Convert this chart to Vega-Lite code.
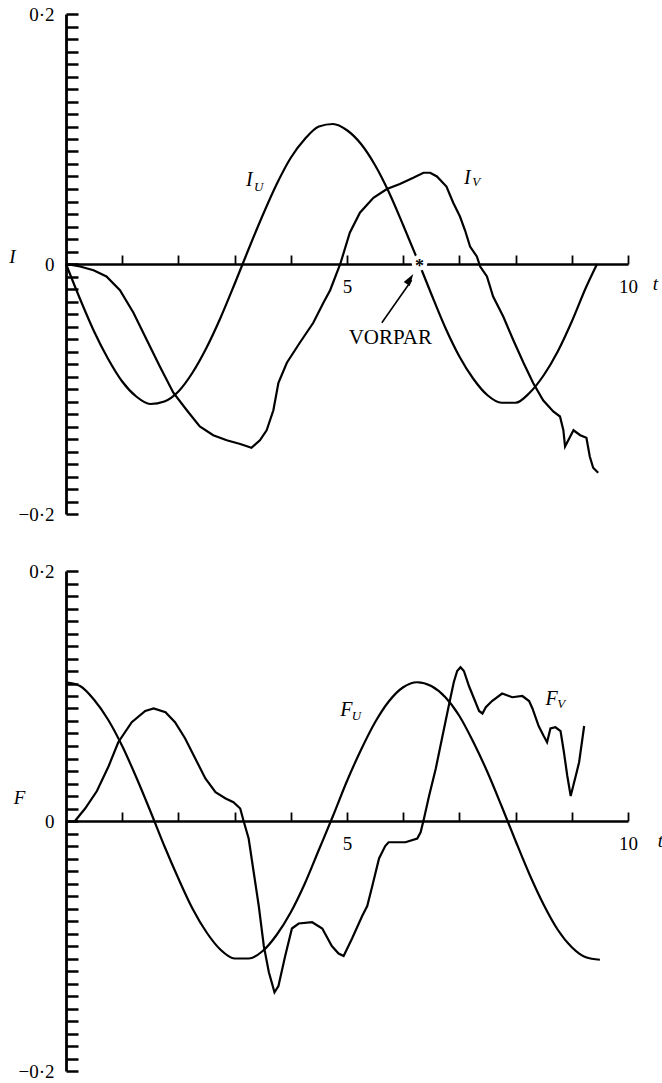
{
  "$schema": "https://vega.github.io/schema/vega-lite/v6.json",
  "background": "white",
  "padding": {"left": 8, "top": 5, "right": 0, "bottom": 0},
  "spacing": 38,
  "config": {"view": {"stroke": null}, "font": "Liberation Serif", "axis": {"grid": false}},
  "datasets": {
    "IU": [
      {"t": 0, "v": 0}, {"t": 0.25, "v": -0.028}, {"t": 0.5, "v": -0.054}, {"t": 0.75, "v": -0.076}, {"t": 1, "v": -0.094},
      {"t": 1.25, "v": -0.106}, {"t": 1.5, "v": -0.112}, {"t": 1.75, "v": -0.11}, {"t": 2, "v": -0.102}, {"t": 2.25, "v": -0.087},
      {"t": 2.5, "v": -0.067}, {"t": 2.75, "v": -0.043}, {"t": 3, "v": -0.016}, {"t": 3.25, "v": 0.012}, {"t": 3.5, "v": 0.039},
      {"t": 3.75, "v": 0.064}, {"t": 4, "v": 0.085}, {"t": 4.25, "v": 0.1}, {"t": 4.5, "v": 0.11}, {"t": 4.75, "v": 0.112},
      {"t": 5, "v": 0.107}, {"t": 5.25, "v": 0.096}, {"t": 5.5, "v": 0.079}, {"t": 5.75, "v": 0.057}, {"t": 6, "v": 0.031},
      {"t": 6.25, "v": 0.004}, {"t": 6.5, "v": -0.024}, {"t": 6.75, "v": -0.051}, {"t": 7, "v": -0.074}, {"t": 7.25, "v": -0.092},
      {"t": 7.5, "v": -0.105}, {"t": 7.75, "v": -0.111}, {"t": 8, "v": -0.111}, {"t": 8.25, "v": -0.103}, {"t": 8.5, "v": -0.089},
      {"t": 8.75, "v": -0.07}, {"t": 9, "v": -0.046}, {"t": 9.25, "v": -0.019}, {"t": 9.45, "v": 0}
    ],
    "IV": [
      {"t": 0, "v": 0}, {"t": 0.25, "v": -0.002}, {"t": 0.49, "v": -0.005}, {"t": 0.72, "v": -0.01}, {"t": 0.96, "v": -0.021},
      {"t": 1.2, "v": -0.039}, {"t": 1.44, "v": -0.061}, {"t": 1.67, "v": -0.082}, {"t": 1.91, "v": -0.103}, {"t": 2.15, "v": -0.117},
      {"t": 2.38, "v": -0.13}, {"t": 2.62, "v": -0.137}, {"t": 2.86, "v": -0.141}, {"t": 3.1, "v": -0.144}, {"t": 3.3, "v": -0.147},
      {"t": 3.45, "v": -0.141}, {"t": 3.57, "v": -0.133}, {"t": 3.69, "v": -0.117}, {"t": 3.78, "v": -0.095}, {"t": 3.93, "v": -0.079},
      {"t": 4.16, "v": -0.063}, {"t": 4.4, "v": -0.047}, {"t": 4.58, "v": -0.031}, {"t": 4.7, "v": -0.021}, {"t": 4.88, "v": 0},
      {"t": 5.05, "v": 0.025}, {"t": 5.23, "v": 0.041}, {"t": 5.47, "v": 0.053}, {"t": 5.71, "v": 0.06}, {"t": 5.94, "v": 0.064},
      {"t": 6.18, "v": 0.069}, {"t": 6.36, "v": 0.073}, {"t": 6.48, "v": 0.073}, {"t": 6.6, "v": 0.07}, {"t": 6.77, "v": 0.062},
      {"t": 6.89, "v": 0.049}, {"t": 7.01, "v": 0.038}, {"t": 7.1, "v": 0.027}, {"t": 7.19, "v": 0.014}, {"t": 7.31, "v": 0.006},
      {"t": 7.37, "v": -0.002}, {"t": 7.49, "v": -0.01}, {"t": 7.6, "v": -0.026}, {"t": 7.78, "v": -0.042}, {"t": 7.96, "v": -0.061},
      {"t": 8.14, "v": -0.079}, {"t": 8.31, "v": -0.095}, {"t": 8.49, "v": -0.109}, {"t": 8.67, "v": -0.118}, {"t": 8.79, "v": -0.122},
      {"t": 8.85, "v": -0.133}, {"t": 8.88, "v": -0.146}, {"t": 9.03, "v": -0.133}, {"t": 9.15, "v": -0.137}, {"t": 9.26, "v": -0.139},
      {"t": 9.32, "v": -0.154}, {"t": 9.38, "v": -0.163}, {"t": 9.47, "v": -0.167}
    ],
    "FU": [
      {"t": 0, "v": 0.111}, {"t": 0.25, "v": 0.108}, {"t": 0.5, "v": 0.097}, {"t": 0.75, "v": 0.081}, {"t": 1, "v": 0.06},
      {"t": 1.25, "v": 0.035}, {"t": 1.5, "v": 0.008}, {"t": 1.75, "v": -0.02}, {"t": 2, "v": -0.046}, {"t": 2.25, "v": -0.07},
      {"t": 2.5, "v": -0.089}, {"t": 2.75, "v": -0.103}, {"t": 3, "v": -0.11}, {"t": 3.25, "v": -0.11}, {"t": 3.5, "v": -0.104},
      {"t": 3.75, "v": -0.091}, {"t": 4, "v": -0.073}, {"t": 4.25, "v": -0.05}, {"t": 4.5, "v": -0.023}, {"t": 4.75, "v": 0.004},
      {"t": 5, "v": 0.032}, {"t": 5.25, "v": 0.057}, {"t": 5.5, "v": 0.079}, {"t": 5.75, "v": 0.096}, {"t": 6, "v": 0.107},
      {"t": 6.25, "v": 0.111}, {"t": 6.5, "v": 0.108}, {"t": 6.75, "v": 0.099}, {"t": 7, "v": 0.084}, {"t": 7.25, "v": 0.063},
      {"t": 7.5, "v": 0.039}, {"t": 7.75, "v": 0.012}, {"t": 8, "v": -0.016}, {"t": 8.25, "v": -0.043}, {"t": 8.5, "v": -0.067},
      {"t": 8.75, "v": -0.087}, {"t": 9, "v": -0.101}, {"t": 9.25, "v": -0.109}, {"t": 9.5, "v": -0.111}
    ],
    "FV": [
      {"t": 0.16, "v": 0}, {"t": 0.34, "v": 0.01}, {"t": 0.55, "v": 0.024}, {"t": 0.76, "v": 0.044}, {"t": 0.93, "v": 0.063},
      {"t": 1.17, "v": 0.079}, {"t": 1.41, "v": 0.088}, {"t": 1.56, "v": 0.09}, {"t": 1.77, "v": 0.087}, {"t": 1.94, "v": 0.079},
      {"t": 2.12, "v": 0.066}, {"t": 2.3, "v": 0.05}, {"t": 2.48, "v": 0.034}, {"t": 2.66, "v": 0.023}, {"t": 2.84, "v": 0.018},
      {"t": 2.98, "v": 0.015}, {"t": 3.1, "v": 0.01}, {"t": 3.16, "v": 0}, {"t": 3.25, "v": -0.014}, {"t": 3.34, "v": -0.041},
      {"t": 3.43, "v": -0.068}, {"t": 3.52, "v": -0.1}, {"t": 3.61, "v": -0.121}, {"t": 3.71, "v": -0.137}, {"t": 3.78, "v": -0.132},
      {"t": 3.9, "v": -0.108}, {"t": 4.02, "v": -0.086}, {"t": 4.14, "v": -0.082}, {"t": 4.38, "v": -0.081}, {"t": 4.56, "v": -0.086},
      {"t": 4.73, "v": -0.1}, {"t": 4.85, "v": -0.106}, {"t": 4.94, "v": -0.108}, {"t": 5.09, "v": -0.094}, {"t": 5.27, "v": -0.076},
      {"t": 5.36, "v": -0.068}, {"t": 5.45, "v": -0.052}, {"t": 5.57, "v": -0.03}, {"t": 5.68, "v": -0.02}, {"t": 5.74, "v": -0.017},
      {"t": 6.04, "v": -0.017}, {"t": 6.25, "v": -0.014}, {"t": 6.31, "v": -0.009}, {"t": 6.37, "v": 0.002}, {"t": 6.46, "v": 0.02},
      {"t": 6.58, "v": 0.042}, {"t": 6.69, "v": 0.066}, {"t": 6.81, "v": 0.092}, {"t": 6.9, "v": 0.111}, {"t": 6.96, "v": 0.12},
      {"t": 7.02, "v": 0.123}, {"t": 7.08, "v": 0.12}, {"t": 7.17, "v": 0.108}, {"t": 7.26, "v": 0.098}, {"t": 7.35, "v": 0.088},
      {"t": 7.41, "v": 0.086}, {"t": 7.47, "v": 0.091}, {"t": 7.58, "v": 0.096}, {"t": 7.76, "v": 0.102}, {"t": 7.94, "v": 0.099},
      {"t": 8.12, "v": 0.1}, {"t": 8.24, "v": 0.096}, {"t": 8.3, "v": 0.09}, {"t": 8.41, "v": 0.076}, {"t": 8.5, "v": 0.068},
      {"t": 8.56, "v": 0.063}, {"t": 8.62, "v": 0.074}, {"t": 8.71, "v": 0.075}, {"t": 8.8, "v": 0.072}, {"t": 8.86, "v": 0.055},
      {"t": 8.92, "v": 0.036}, {"t": 8.98, "v": 0.02}, {"t": 9.07, "v": 0.036}, {"t": 9.13, "v": 0.047}, {"t": 9.22, "v": 0.076}
    ],
    "topMain": [{"label": "I", "t": 3.26, "v": 0.067}, {"label": "I", "t": 7.14, "v": 0.069}],
    "topSub": [{"label": "U", "t": 3.43, "v": 0.062}, {"label": "V", "t": 7.3, "v": 0.066}],
    "botMain": [{"label": "F", "t": 4.99, "v": 0.089}, {"label": "F", "t": 8.64, "v": 0.098}],
    "botSub": [{"label": "U", "t": 5.17, "v": 0.084}, {"label": "V", "t": 8.81, "v": 0.094}],
    "star": [{"label": "*", "t": 6.29, "v": 0.001}],
    "note": [{"label": "VORPAR", "t": 5.77, "v": -0.059}],
    "arrow": [{"t": 5.62, "v": -0.047, "t2": 6.15, "v2": -0.013}],
    "arrowhead": [{"t": 6.18, "v": -0.008}]
  },
  "vconcat": [
    {
      "width": 562,
      "height": 500,
      "encoding": {
        "x": {
          "field": "t", "type": "quantitative",
          "scale": {"domain": [0, 10], "nice": false, "zero": false},
          "axis": {
            "orient": "bottom", "offset": -250,
            "values": [1, 2, 3, 4, 5, 6, 7, 8, 9, 10],
            "labelExpr": "datum.value == 5 ? '5' : datum.value == 10 ? '10' : ''",
            "tickSize": -9, "tickWidth": 1.8, "tickColor": "black",
            "domainColor": "black", "domainWidth": 2.5,
            "labelFont": "Liberation Serif", "labelFontSize": 19, "labelColor": "black",
            "labelPadding": 22, "labelBaseline": "top", "labelAngle": 0,
            "labelOverlap": false, "labelFlush": false,
            "title": "t", "titleFont": "Liberation Serif", "titleFontStyle": "italic", "titleFontWeight": "normal",
            "titleFontSize": 19, "titleColor": "black", "titleX": 589, "titleY": 19, "titleAlign": "center", "titleBaseline": "middle", "titleAngle": 0
          }
        },
        "y": {
          "field": "v", "type": "quantitative",
          "scale": {"domain": [-0.2, 0.2], "nice": false, "zero": false},
          "axis": {
            "orient": "left",
            "values": [-0.2, -0.19, -0.18, -0.17, -0.16, -0.15, -0.14, -0.13, -0.12, -0.11, -0.1, -0.09, -0.08, -0.07, -0.06, -0.05, -0.04, -0.03, -0.02, -0.01, 0, 0.01, 0.02, 0.03, 0.04, 0.05, 0.06, 0.07, 0.08, 0.09, 0.1, 0.11, 0.12, 0.13, 0.14, 0.15, 0.16, 0.17, 0.18, 0.19, 0.2],
            "labelExpr": "abs(datum.value - 0.2) < 0.001 ? '0·2' : abs(datum.value + 0.2) < 0.001 ? '−0·2' : abs(datum.value) < 0.001 ? '0' : ''",
            "tickSize": -12, "tickWidth": 2.5, "tickColor": "black",
            "domainColor": "black", "domainWidth": 2.8,
            "labelFont": "Liberation Serif", "labelFontSize": 19, "labelColor": "black",
            "labelPadding": 24, "labelOverlap": false, "labelFlush": false,
            "title": "I", "titleFont": "Liberation Serif", "titleFontStyle": "italic", "titleFontWeight": "normal",
            "titleFontSize": 19, "titleColor": "black", "titleAngle": 0, "titleX": -54, "titleY": 242, "titleAlign": "center", "titleBaseline": "middle"
          }
        }
      },
      "layer": [
        {"data": {"name": "IU"}, "mark": {"type": "line", "color": "black", "strokeWidth": 2.2, "interpolate": "monotone"}},
        {"data": {"name": "IV"}, "mark": {"type": "line", "color": "black", "strokeWidth": 2.2}},
        {"data": {"name": "star"}, "mark": {"type": "point", "filled": true, "color": "white", "opacity": 1, "size": 250}},
        {"data": {"name": "star"}, "mark": {"type": "text", "color": "black", "font": "Liberation Serif", "fontSize": 18, "fontWeight": "bold", "align": "center", "baseline": "middle", "dy": 4}, "encoding": {"text": {"field": "label"}}},
        {"data": {"name": "arrow"}, "mark": {"type": "rule", "color": "black", "strokeWidth": 1.6}, "encoding": {"x2": {"field": "t2"}, "y2": {"field": "v2"}}},
        {"data": {"name": "arrowhead"}, "mark": {"type": "point", "shape": "M0,0L-0.6,2L0.6,2Z", "filled": true, "color": "black", "opacity": 1, "size": 144, "angle": 33}},
        {"data": {"name": "topMain"}, "mark": {"type": "text", "color": "black", "font": "Liberation Serif", "fontStyle": "italic", "fontSize": 20, "align": "center", "baseline": "middle"}, "encoding": {"text": {"field": "label"}}},
        {"data": {"name": "topSub"}, "mark": {"type": "text", "color": "black", "font": "Liberation Serif", "fontStyle": "italic", "fontSize": 13, "align": "center", "baseline": "middle"}, "encoding": {"text": {"field": "label"}}},
        {"data": {"name": "note"}, "mark": {"type": "text", "color": "black", "font": "Liberation Serif", "fontSize": 21, "align": "center", "baseline": "middle"}, "encoding": {"text": {"field": "label"}}}
      ]
    },
    {
      "width": 562,
      "height": 500,
      "encoding": {
        "x": {
          "field": "t", "type": "quantitative",
          "scale": {"domain": [0, 10], "nice": false, "zero": false},
          "axis": {
            "orient": "bottom", "offset": -250,
            "values": [1, 2, 3, 4, 5, 6, 7, 8, 9, 10],
            "labelExpr": "datum.value == 5 ? '5' : datum.value == 10 ? '10' : ''",
            "tickSize": -9, "tickWidth": 1.8, "tickColor": "black",
            "domainColor": "black", "domainWidth": 2.5,
            "labelFont": "Liberation Serif", "labelFontSize": 19, "labelColor": "black",
            "labelPadding": 22, "labelBaseline": "top", "labelAngle": 0,
            "labelOverlap": false, "labelFlush": false,
            "title": "t", "titleFont": "Liberation Serif", "titleFontStyle": "italic", "titleFontWeight": "normal",
            "titleFontSize": 19, "titleColor": "black", "titleX": 594, "titleY": 19, "titleAlign": "center", "titleBaseline": "middle", "titleAngle": 0
          }
        },
        "y": {
          "field": "v", "type": "quantitative",
          "scale": {"domain": [-0.2, 0.2], "nice": false, "zero": false},
          "axis": {
            "orient": "left",
            "values": [-0.2, -0.19, -0.18, -0.17, -0.16, -0.15, -0.14, -0.13, -0.12, -0.11, -0.1, -0.09, -0.08, -0.07, -0.06, -0.05, -0.04, -0.03, -0.02, -0.01, 0, 0.01, 0.02, 0.03, 0.04, 0.05, 0.06, 0.07, 0.08, 0.09, 0.1, 0.11, 0.12, 0.13, 0.14, 0.15, 0.16, 0.17, 0.18, 0.19, 0.2],
            "labelExpr": "abs(datum.value - 0.2) < 0.001 ? '0·2' : abs(datum.value + 0.2) < 0.001 ? '−0·2' : abs(datum.value) < 0.001 ? '0' : ''",
            "tickSize": -12, "tickWidth": 2.5, "tickColor": "black",
            "domainColor": "black", "domainWidth": 2.8,
            "labelFont": "Liberation Serif", "labelFontSize": 19, "labelColor": "black",
            "labelPadding": 24, "labelOverlap": false, "labelFlush": false,
            "title": "F", "titleFont": "Liberation Serif", "titleFontStyle": "italic", "titleFontWeight": "normal",
            "titleFontSize": 19, "titleColor": "black", "titleAngle": 0, "titleX": -47, "titleY": 226, "titleAlign": "center", "titleBaseline": "middle"
          }
        }
      },
      "layer": [
        {"data": {"name": "FU"}, "mark": {"type": "line", "color": "black", "strokeWidth": 2.2, "interpolate": "monotone"}},
        {"data": {"name": "FV"}, "mark": {"type": "line", "color": "black", "strokeWidth": 2.2}},
        {"data": {"name": "botMain"}, "mark": {"type": "text", "color": "black", "font": "Liberation Serif", "fontStyle": "italic", "fontSize": 20, "align": "center", "baseline": "middle"}, "encoding": {"text": {"field": "label"}}},
        {"data": {"name": "botSub"}, "mark": {"type": "text", "color": "black", "font": "Liberation Serif", "fontStyle": "italic", "fontSize": 13, "align": "center", "baseline": "middle"}, "encoding": {"text": {"field": "label"}}}
      ]
    }
  ]
}
